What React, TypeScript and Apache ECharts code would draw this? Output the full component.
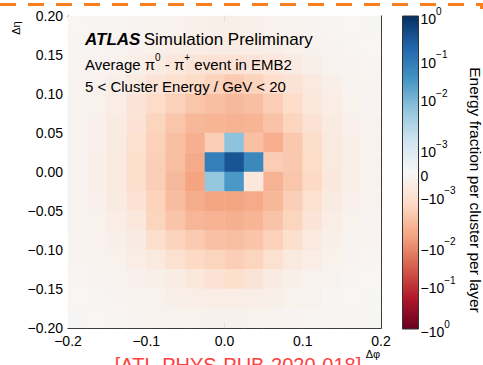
import React, { useEffect, useRef } from "react";
import * as echarts from "echarts";

// Bin centres (Δφ, Δη), cell size 0.025
const phiBins = [-0.1875, -0.1625, -0.1375, -0.1125, -0.0875, -0.0625, -0.0375, -0.0125, 0.0125, 0.0375, 0.0625, 0.0875, 0.1125, 0.1375, 0.1625, 0.1875];
const etaBins = [-0.1875, -0.1625, -0.1375, -0.1125, -0.0875, -0.0625, -0.0375, -0.0125, 0.0125, 0.0375, 0.0625, 0.0875, 0.1125, 0.1375, 0.1625, 0.1875];

// Energy fraction per cell, rows from top (Δη = +0.1875) to bottom (Δη = -0.1875)
const row00 = [-0.00012, -0.00014, -0.00016, -0.0002, -0.00025, -0.0003, -0.00035, -0.0004, -0.0004, -0.00035, -0.0003, -0.00025, -0.0002, -0.00015, -0.00012, -0.0001];
const row01 = [-0.00014, -0.00016, -0.0002, -0.00028, -0.00035, -0.00045, -0.0005, -0.00055, -0.00055, -0.0005, -0.00045, -0.00035, -0.00025, -0.0002, -0.00015, -0.00012];
const row02 = [-0.00015, -0.0002, -0.00028, -0.0004, -0.0006, -0.0008, -0.0009, -0.001, -0.001, -0.0009, -0.0008, -0.0006, -0.0004, -0.00025, -0.00018, -0.00014];
const row03 = [-0.0002, -0.00028, -0.0004, -0.0006, -0.0009, -0.0011, -0.0014, -0.0018, -0.0022, -0.0018, -0.0013, -0.001, -0.0007, -0.0004, -0.00025, -0.00018];
const row04 = [-0.00022, -0.0003, -0.0005, -0.0009, -0.0014, -0.0019, -0.0025, -0.003, -0.0035, -0.003, -0.0021, -0.0014, -0.0008, -0.0005, -0.0003, -0.0002];
const row05 = [-0.00025, -0.00035, -0.0006, -0.001, -0.0017, -0.0025, -0.0036, -0.0039, -0.0042, -0.0039, -0.0028, -0.0017, -0.001, -0.0006, -0.00035, -0.00022];
const row06 = [-0.00025, -0.00035, -0.0006, -0.0011, -0.0019, -0.003, -0.0044, -0.0021, 0.0063, -0.0029, -0.0046, -0.0024, -0.0013, -0.0007, -0.0004, -0.00025];
const row07 = [-0.00025, -0.0004, -0.0007, -0.0012, -0.002, -0.0031, -0.005, 0.075, 0.32, 0.051, -0.0021, -0.0024, -0.0014, -0.0007, -0.0004, -0.00025];
const row08 = [-0.00025, -0.0004, -0.0007, -0.0012, -0.002, -0.0035, -0.006, 0.0055, 0.027, -0.0008, -0.0041, -0.0025, -0.0015, -0.0008, -0.0004, -0.00025];
const row09 = [-0.00025, -0.00035, -0.0006, -0.001, -0.0018, -0.0032, -0.0048, -0.0059, -0.0059, -0.005, -0.0037, -0.002, -0.0011, -0.0006, -0.00035, -0.00022];
const row10 = [-0.00022, -0.0003, -0.0005, -0.0008, -0.0017, -0.0026, -0.0038, -0.0042, -0.0044, -0.0039, -0.0027, -0.0017, -0.0009, -0.0005, -0.0003, -0.0002];
const row11 = [-0.0002, -0.00028, -0.0004, -0.0006, -0.0012, -0.0018, -0.0022, -0.0029, -0.0031, -0.0026, -0.0019, -0.0012, -0.0007, -0.0004, -0.00025, -0.00018];
const row12 = [-0.00018, -0.00024, -0.0003, -0.0005, -0.0007, -0.0011, -0.0015, -0.0017, -0.002, -0.0017, -0.0011, -0.0007, -0.0005, -0.0003, -0.0002, -0.00015];
const row13 = [-0.00015, -0.0002, -0.00025, -0.00035, -0.0004, -0.00053, -0.0008, -0.001, -0.0012, -0.0009, -0.0006, -0.0004, -0.0003, -0.00022, -0.00016, -0.00012];
const row14 = [-0.00012, -0.00015, -0.0002, -0.00025, -0.0003, -0.0004, -0.00045, -0.0005, -0.0005, -0.00045, -0.0004, -0.0003, -0.00022, -0.00016, -0.00012, -0.0001];
const row15 = [-0.0001, -0.00012, -0.00015, -0.00018, -0.00022, -0.00026, -0.0003, -0.00032, -0.00032, -0.0003, -0.00026, -0.0002, -0.00016, -0.00013, -0.0001, -0.00008];
const energyRows = [row00, row01, row02, row03, row04, row05, row06, row07, row08, row09, row10, row11, row12, row13, row14, row15];

// Colour bar: tick values, their labels, and positions along the bar (-1 bottom .. 1 top)
const cbTickValues = [1, 0.1, 0.01, 0.001, 0, -0.001, -0.01, -0.1, -1];
const cbTickLabels = [
  "{b|10}{s|0}", "{b|10}{s|−1}", "{b|10}{s|−2}", "{b|10}{s|−3}", "{b|0}",
  "{b|−10}{s|−3}", "{b|−10}{s|−2}", "{b|−10}{s|−1}", "{b|−10}{s|0}",
];
const cbTickPos = [1, 0.72, 0.476, 0.147, 0, -0.147, -0.476, -0.72, -1];
const rdBu = ["#67001f", "#b2182b", "#d6604d", "#f4a582", "#fddbc7", "#f7f7f7", "#d1e5f0", "#92c5de", "#4393c3", "#2166ac", "#053061"];

const linThresh = 0.001;
// positive decades positions: 1e-3, 1e-2, 1e-1, 1
const decadePos = [cbTickPos[3], cbTickPos[2], cbTickPos[1], cbTickPos[0]];
function norm(v: number): number {
  const a = Math.abs(v);
  const s = v < 0 ? -1 : 1;
  if (a <= linThresh) return (s * decadePos[0] * a) / linThresh;
  const l = Math.log10(a / linThresh);
  const k = Math.min(2, Math.floor(l));
  const f = l - k;
  return s * Math.min(1, decadePos[k] + (decadePos[k + 1] - decadePos[k]) * f);
}

const FONT = "'Liberation Sans', Arial, Helvetica, sans-serif";

export default function App() {
  const ref = useRef<HTMLDivElement>(null);
  useEffect(() => {
    if (!ref.current) return;
    const chart = echarts.init(ref.current, undefined, { renderer: "svg" });
    const n = etaBins.length;
    const data: number[][] = [];
    energyRows.forEach((row, r) => {
      row.forEach((v, c) => {
        data.push([c, n - 1 - r, v, norm(v)]);
      });
    });

    const gridL = 68, gridT = 16, gridW = 313, gridH = 312;
    const cbL = 402.5, cbT = 16, cbW = 16, cbH = 313;

    const tickCommon = {
      axisLine: { show: true, onZero: false, lineStyle: { color: "#000", width: 1 } },
      axisTick: { show: true, inside: true, length: 6, lineStyle: { color: "#000", width: 1 } },
      minorTick: { show: true, splitNumber: 5, length: 3, lineStyle: { color: "#000", width: 1 } },
      splitLine: { show: false },
      minorSplitLine: { show: false },
    };

    const fmtX = (v: number) => (v < -1e-9 ? "−" : "") + Math.abs(v).toFixed(1);
    const fmtY = (v: number) => (v < -1e-9 ? "−" : "") + Math.abs(v).toFixed(2);

    chart.setOption({
      animation: false,
      backgroundColor: "#fff",
      textStyle: { fontFamily: FONT },
      grid: [
        { left: gridL, top: gridT, width: gridW, height: gridH },
        { left: cbL, top: cbT, width: cbW, height: cbH },
      ],
      xAxis: [
        { type: "category", gridIndex: 0, data: phiBins, show: false },
        {
          type: "value", gridIndex: 0, position: "bottom", min: -0.2, max: 0.2, interval: 0.1,
          ...tickCommon,
          axisLabel: { formatter: fmtX, fontSize: 14, color: "#000", margin: 6, fontFamily: FONT },
        },
        {
          type: "value", gridIndex: 0, position: "top", min: -0.2, max: 0.2, interval: 0.1,
          ...tickCommon,
          axisLabel: { show: false },
        },
        { type: "value", gridIndex: 1, show: false, min: 0, max: 1 },
      ],
      yAxis: [
        { type: "category", gridIndex: 0, data: etaBins, show: false },
        {
          type: "value", gridIndex: 0, position: "left", min: -0.2, max: 0.2, interval: 0.05,
          ...tickCommon,
          axisLabel: { formatter: fmtY, fontSize: 14, color: "#000", margin: 5, fontFamily: FONT },
        },
        {
          type: "value", gridIndex: 0, position: "right", min: -0.2, max: 0.2, interval: 0.05,
          ...tickCommon,
          axisLabel: { show: false },
        },
        {
          type: "value", gridIndex: 1, position: "right", min: -1, max: 1,
          axisLine: { show: false },
          axisTick: { show: false },
          splitLine: { show: false },
          axisLabel: {
            show: true,
            customValues: cbTickPos,
            margin: 2,
            color: "#000",
            fontFamily: FONT,
            formatter: (v: number) => {
              const i = cbTickPos.findIndex((p) => Math.abs(p - v) < 1e-6);
              return i >= 0 ? cbTickLabels[i] : "";
            },
            rich: {
              b: { fontSize: 14, lineHeight: 20, verticalAlign: "bottom", color: "#000", fontFamily: FONT },
              s: { fontSize: 10, lineHeight: 8, verticalAlign: "top", color: "#000", fontFamily: FONT },
            },
          },
        },
      ],
      visualMap: {
        type: "continuous",
        show: false,
        seriesIndex: 0,
        dimension: 3,
        min: -1,
        max: 1,
        inRange: { color: rdBu },
      },
      series: [
        {
          type: "heatmap",
          xAxisIndex: 0,
          yAxisIndex: 0,
          data,
          itemStyle: { borderWidth: 0 },
          emphasis: { disabled: true },
          silent: true,
        },
      ],
      graphic: [
        {
          type: "polyline", z: 100, silent: true,
          shape: { points: [[0, 4.5], [481.5, 4.5], [481.5, 9]] },
          style: { stroke: "#f77f1c", lineWidth: 3, lineDash: [16, 12], fill: null },
        },
        {
          type: "rect", z: 90, silent: true,
          shape: { x: cbL, y: cbT, width: cbW, height: cbH },
          style: {
            fill: new echarts.graphic.LinearGradient(0, 0, 0, 1,
              rdBu.slice().reverse().map((c, i) => ({ offset: i / (rdBu.length - 1), color: c }))),
            stroke: "#333", lineWidth: 1,
          },
        },
        {
          type: "text", z: 100, silent: true, x: 85, y: 39.5,
          style: {
            text: "{a|ATLAS} {t|Simulation Preliminary}",
            verticalAlign: "middle",
            rich: {
              a: { fontSize: 17, fontWeight: "bold", fontStyle: "italic", fill: "#000", fontFamily: FONT },
              t: { fontSize: 17, fill: "#000", fontFamily: FONT },
            },
          },
        },
        {
          type: "text", z: 100, silent: true, x: 85, y: 62,
          style: {
            text: "{t|Average π}{s|0}{t| - π}{s|+}{t| event in EMB2}",
            verticalAlign: "middle",
            rich: {
              t: { fontSize: 15, lineHeight: 20, verticalAlign: "bottom", fill: "#000", fontFamily: FONT },
              s: { fontSize: 10, lineHeight: 8, verticalAlign: "top", fill: "#000", fontFamily: FONT },
            },
          },
        },
        {
          type: "text", z: 100, silent: true, x: 85, y: 86,
          style: { text: "5 < Cluster Energy / GeV < 20", fontSize: 15, fill: "#000", fontFamily: FONT, verticalAlign: "middle" },
        },
        {
          type: "text", z: 100, silent: true, x: 16, y: 28, rotation: Math.PI / 2,
          style: { text: "Δη", fontSize: 11, fill: "#000", fontFamily: FONT, align: "center", verticalAlign: "middle" },
        },
        {
          type: "text", z: 100, silent: true, x: 373, y: 354,
          style: { text: "Δφ", fontSize: 11, fill: "#000", fontFamily: FONT, align: "center", verticalAlign: "middle" },
        },
        {
          type: "text", z: 100, silent: true, x: 475, y: 190, rotation: -Math.PI / 2,
          style: { text: "Energy fraction per cluster per layer", fontSize: 15.5, fill: "#000", fontFamily: FONT, align: "center", verticalAlign: "middle" },
        },
        {
          type: "text", z: 100, silent: true, x: 238, y: 365,
          style: { text: "[ATL-PHYS-PUB-2020-018]", fontSize: 20, fill: "#ff4040", fontFamily: FONT, align: "center", verticalAlign: "middle" },
        },
      ],
    });
    return () => chart.dispose();
  }, []);
  return <div ref={ref} style={{ position: "fixed", left: 0, top: 0, width: 483, height: 365 }} />;
}
